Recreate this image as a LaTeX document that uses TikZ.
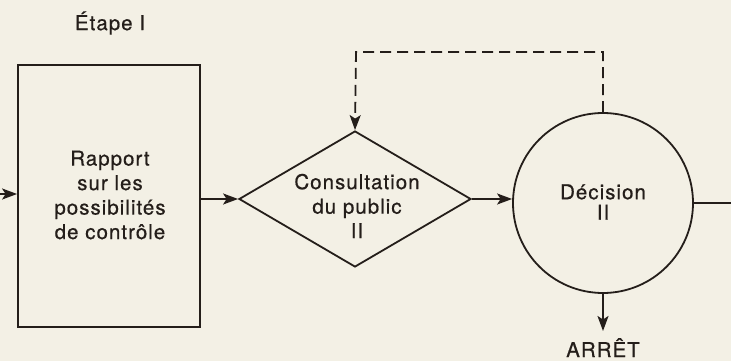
\documentclass[tikz,border=0pt]{standalone}
\usepackage{fontspec}
\setmainfont[LetterSpace=5,FakeBold=0.6]{TeX Gyre Heros}
\usetikzlibrary{arrows.meta,shapes.geometric}
\definecolor{paper}{HTML}{F3F0E5}
\definecolor{ink}{HTML}{241E1A}
\tikzset{
  ln/.style={draw=ink,line width=1.8pt},
  arr/.style={ln,-{Stealth[length=15pt,width=11pt,inset=3.5pt]}},
  lbl/.style={text=ink,font=\fontsize{20.5}{24.5}\selectfont,align=center,inner sep=0pt},
}
\begin{document}
\begin{tikzpicture}[x=1pt,y=-1pt]
\fill[paper] (0,0) rectangle (731,361);
\useasboundingbox (0,0) rectangle (731,361);

\node[lbl] (etape) at (110,23) {Étape I};
\node[ln,rectangle,minimum width=182pt,minimum height=262pt,inner sep=0pt] (box) at (109,196) {};
\node[lbl] (boxtxt) at (110,195) {Rapport\\sur les\\possibilités\\de contrôle};

\node[ln,diamond,minimum width=232pt,minimum height=136pt,inner sep=0pt] (diam) at (355,199) {};
\node[lbl] (diamtxt) at (357,206) {Consultation\\du public\\II};

\node[ln,circle,minimum size=180pt,inner sep=0pt] (circ) at (603,203) {};
\node[lbl,font=\fontsize{20.5}{20.5}\selectfont] (circtxt) at (603,202) {Décision\\II};

\node[lbl,anchor=north] (arret) at (603,338) {ARRÊT};

\coordinate (in) at (0,194);
\coordinate (out) at (731,203);
\coordinate (stop) at (603,331);
\coordinate (loop) at (356,52);

\draw[arr] (in) -- (in -| box.west);
\draw[arr] (box.east |- diam.west) -- (diam.west);
\draw[arr] (diam.east) -- (diam.east -| circ.west);
\draw[ln] (circ.east) -- (out);
\draw[arr] (circ.south) -- (stop);
\draw[arr,dash pattern=on 11pt off 6pt] (circ.north) |- (loop) -- (diam.north);
\end{tikzpicture}
\end{document}
